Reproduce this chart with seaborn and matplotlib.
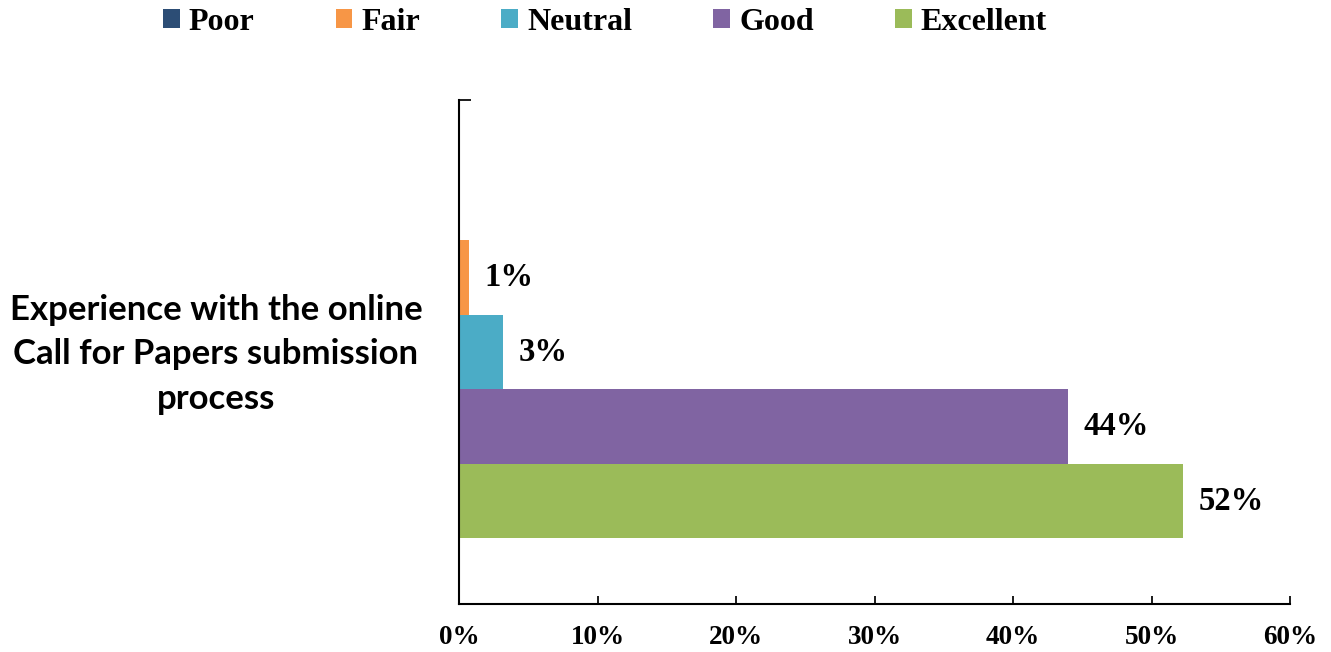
import pandas as pd
import matplotlib.pyplot as plt
import seaborn as sns

question = ["Experience with the online\nCall for Papers submission\nprocess"]
ratings = ["Poor", "Fair", "Neutral", "Good", "Excellent"]
shares = [0.0, 0.7, 3.2, 44.0, 52.3]
colors = ["#2c4d75", "#f79646", "#4bacc6", "#8064a2", "#9bbb59"]
ticks = [0, 10, 20, 30, 40, 50, 60]

df = pd.DataFrame({"question": question * len(ratings), "rating": ratings, "share": shares})

sns.set_theme(style="white")
plt.rcParams['font.family'] = ['Liberation Serif', 'DejaVu Serif']
plt.rcParams['font.weight'] = 'bold'
plt.rcParams['text.color'] = 'black'
plt.rcParams['xtick.color'] = 'black'
plt.rcParams['ytick.color'] = 'black'

fig = plt.figure(figsize=(13.31, 6.52), dpi=100)
ax = fig.add_axes([0.3449, 0.0736, 0.6243, 0.773])
sns.barplot(data=df, x="share", y="question", hue="rating", hue_order=ratings,
            palette=colors, orient="h", width=0.74, gap=0, saturation=1,
            linewidth=0, ax=ax)

# value labels, nothing for the empty "Poor" bar
for container, value in zip(ax.containers, shares):
    ax.bar_label(container, labels=[f"{value:.0f}%" if value > 0 else ""],
                 padding=11, fontsize=23.5, fontweight='bold', color='black')

ax.set_xlim(0, 60)
ax.set_ylim(0.5, -0.5)
ax.set_xticks(ticks)
ax.set_xticklabels([f"{t}%" for t in ticks], fontsize=19.5, fontweight='bold')
# question label sits a little above the centre of the bar group
ax.set_yticks([-0.014])
ax.set_yticklabels(question, fontfamily='Lato', fontweight='bold', fontsize=25,
                   ha='center', linespacing=1.48)
ax.set_yticks([-0.5, 0.5], minor=True)
ax.tick_params(axis='x', direction='in', length=6, width=1.25, bottom=True, pad=15)
ax.tick_params(axis='y', which='major', length=0, pad=175)
ax.tick_params(axis='y', which='minor', direction='in', length=8.5, width=1.25, left=True)
ax.set_xlabel("")
ax.set_ylabel("")

for side in ["top", "right"]:
    ax.spines[side].set_visible(False)
for side in ["left", "bottom"]:
    ax.spines[side].set_color("black")
    ax.spines[side].set_linewidth(1.5)

handles, labels = ax.get_legend_handles_labels()
ax.legend_.remove()
fig.legend(handles, labels, loc="center", bbox_to_anchor=(0.4545, 0.966), ncol=5,
           frameon=False, prop={'family': 'Liberation Serif', 'weight': 'bold', 'size': 23},
           handlelength=0.52, handleheight=0.52, handletextpad=0.28, columnspacing=2.55)

plt.savefig("out.png", dpi=100)
